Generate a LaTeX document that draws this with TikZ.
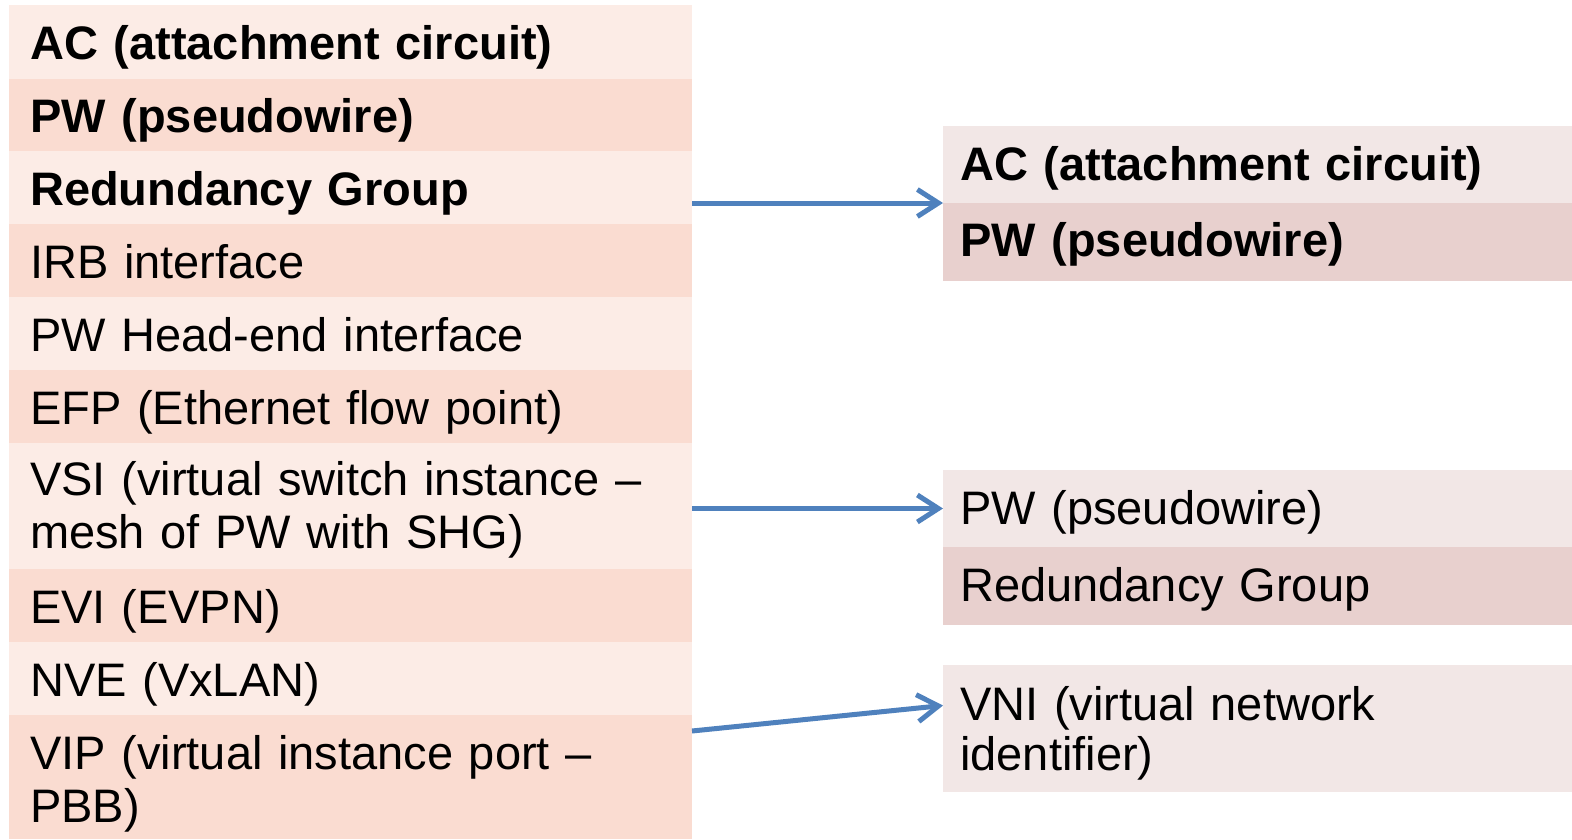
\documentclass[tikz,border=0pt]{standalone}
\usepackage{fontspec}
\setmainfont{Liberation Sans}
\usetikzlibrary{arrows.meta}
\definecolor{lA}{HTML}{FCECE6}
\definecolor{lB}{HTML}{FADCD1}
\definecolor{rA}{HTML}{F2E7E6}
\definecolor{rB}{HTML}{E8D0CE}
\definecolor{arr}{HTML}{4F81BD}
\tikzset{
  lrow/.style={anchor=north west, inner sep=0pt, minimum width=683pt, outer sep=0pt},
  rrow/.style={anchor=north west, inner sep=0pt, minimum width=629pt, outer sep=0pt},
  ltext/.style={anchor=base west, inner sep=0pt, text width=650pt, align=left, font=\fontsize{47}{53}\selectfont},
  rtext/.style={anchor=base west, inner sep=0pt, text width=600pt, align=left, font=\fontsize{47}{50}\selectfont},
  conn/.style={draw=arr, line width=5pt, -{Straight Barb[length=21pt, width=27pt, line width=5pt]}}
}
\begin{document}
\begin{tikzpicture}[x=1pt, y=-1pt]
\useasboundingbox[fill=white] (0,0) rectangle (1572,839);
% left table
\node[lrow, fill=lA, minimum height=74pt] (L1) at (9,5) {};
\node[lrow, fill=lB, minimum height=72pt] (L2) at (9,79) {};
\node[lrow, fill=lA, minimum height=73pt] (L3) at (9,151) {};
\node[lrow, fill=lB, minimum height=73pt] (L4) at (9,224) {};
\node[lrow, fill=lA, minimum height=73pt] (L5) at (9,297) {};
\node[lrow, fill=lB, minimum height=73pt] (L6) at (9,370) {};
\node[lrow, fill=lA, minimum height=126pt] (L7) at (9,443) {};
\node[lrow, fill=lB, minimum height=73pt] (L8) at (9,569) {};
\node[lrow, fill=lA, minimum height=73pt] (L9) at (9,642) {};
\node[lrow, fill=lB, minimum height=124pt] (L10) at (9,715) {};
\node[ltext] (L1t) at ([shift={(21,54)}]L1.north west) {\bfseries AC (attachment circuit)};
\node[ltext] (L2t) at ([shift={(21,53)}]L2.north west) {\bfseries PW (pseudowire)};
\node[ltext] (L3t) at ([shift={(21,54)}]L3.north west) {\bfseries Redundancy Group};
\node[ltext] (L4t) at ([shift={(21,54)}]L4.north west) {IRB interface};
\node[ltext] (L5t) at ([shift={(21,54)}]L5.north west) {PW Head-end interface};
\node[ltext] (L6t) at ([shift={(21,54)}]L6.north west) {EFP (Ethernet flow point)};
\node[ltext] (L7t) at ([shift={(21,52)}]L7.north west) {VSI (virtual switch instance –\\mesh of PW with SHG)};
\node[ltext] (L8t) at ([shift={(21,54)}]L8.north west) {EVI (EVPN)};
\node[ltext] (L9t) at ([shift={(21,54)}]L9.north west) {NVE (VxLAN)};
\node[ltext] (L10t) at ([shift={(21,54)}]L10.north west) {VIP (virtual instance port –\\PBB)};
% right tables
\node[rrow, fill=rA, minimum height=77pt] (R1) at (943,126) {};
\node[rrow, fill=rB, minimum height=78pt] (R2) at (943,203) {};
\node[rrow, fill=rA, minimum height=77pt] (R3) at (943,470) {};
\node[rrow, fill=rB, minimum height=78pt] (R4) at (943,547) {};
\node[rrow, fill=rA, minimum height=127pt] (R5) at (943,665) {};
\node[rtext] (R1t) at ([shift={(17,54)}]R1.north west) {\bfseries AC (attachment circuit)};
\node[rtext] (R2t) at ([shift={(17,53)}]R2.north west) {\bfseries PW (pseudowire)};
\node[rtext] (R3t) at ([shift={(17,54)}]R3.north west) {PW (pseudowire)};
\node[rtext] (R4t) at ([shift={(17,54)}]R4.north west) {Redundancy Group};
\node[rtext] (R5t) at ([shift={(17,55)}]R5.north west) {VNI (virtual network\\identifier)};
% connectors
\draw[conn] (R1.south west -| L3.east) -- (R1.south west);
\draw[conn] (R3.west -| L7.east) -- (R3.west);
\draw[conn] ([yshift=-16pt]L10.north east) -- ([yshift=23pt]R5.west);
\end{tikzpicture}
\end{document}
